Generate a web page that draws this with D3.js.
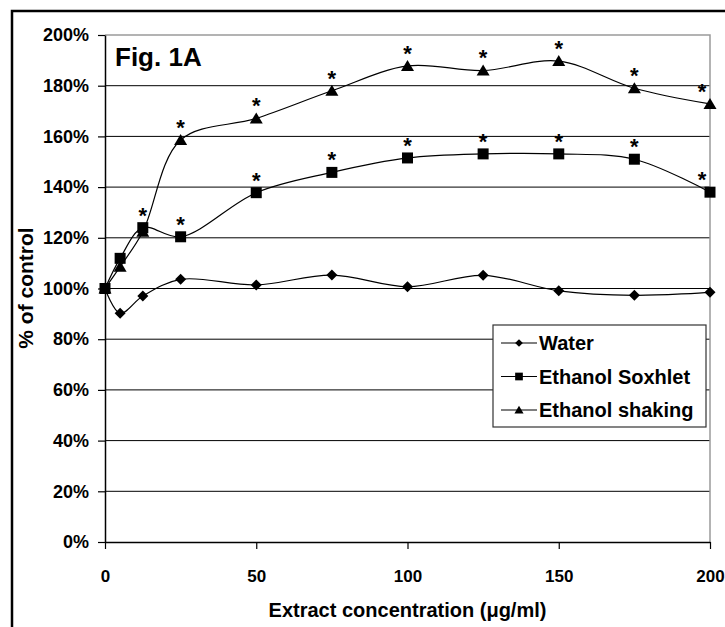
<!DOCTYPE html>
<html>
<head>
<meta charset="utf-8">
<script src="https://cdn.jsdelivr.net/npm/d3@7"></script>
<style>
  body { margin: 0; background: white; }
  text { font-family: "Liberation Sans", Arial, sans-serif; font-weight: bold; fill: #000; }
</style>
</head>
<body>
<div id="chart"></div>
<script>
// Data
const concentrations = [0, 5, 12.5, 25, 50, 75, 100, 125, 150, 175, 200];
const water   = [100, 90.2, 97.0, 103.6, 101.4, 105.3, 100.7, 105.2, 99.1, 97.3, 98.5];
const soxhlet = [100, 111.9, 124.0, 120.4, 137.8, 145.8, 151.5, 153.1, 153.1, 151.0, 138.0];
const shaking = [100, 108.6, 122.4, 158.6, 167.1, 178.0, 187.8, 186.0, 189.7, 179.0, 172.8];
// concentrations marked with * (significant)
const soxhletSig = [12.5, 25, 50, 75, 100, 125, 150, 175, 200];
const shakingSig = [25, 50, 75, 100, 125, 150, 175, 200];
const yTicks = [0, 20, 40, 60, 80, 100, 120, 140, 160, 180, 200];
const xTicks = [0, 50, 100, 150, 200];
const seriesNames = ["Water", "Ethanol Soxhlet", "Ethanol shaking"];

const W = 725, H = 627;
const margin = { top: 35, right: 15, bottom: 85, left: 105 },
      width = 710 - margin.left,
      height = 542 - margin.top;

const svg = d3.select("#chart")
    .append("svg")
    .attr("width", W)
    .attr("height", H)
    .style("background-color", "white");

// outer frame (only left & top visible, it is cropped on the other sides)
svg.append("path")
    .attr("d", `M12,${H + 5} L12,11 L${W + 5},11`)
    .attr("fill", "none")
    .attr("stroke", "#000")
    .attr("stroke-width", 2.5);

const g = svg.append("g")
    .attr("transform", `translate(${margin.left},${margin.top})`);

const x = d3.scaleLinear().domain([0, 200]).range([0, width]);
const y = d3.scaleLinear().domain([0, 200]).range([height, 0]);

// gridlines
g.selectAll("line.grid")
    .data(yTicks.filter(d => d > 0 && d < 200))
    .join("line")
    .attr("class", "grid")
    .attr("x1", 0).attr("x2", width)
    .attr("y1", d => y(d)).attr("y2", d => y(d))
    .attr("stroke", "#000")
    .attr("stroke-width", 1);

// plot border top/right (gray)
g.append("path")
    .attr("d", `M0,${y(200)} H${width} V${height}`)
    .attr("fill", "none")
    .attr("stroke", "#9a9a9a")
    .attr("stroke-width", 1.5);

// axes
const yAxis = g.append("g")
    .call(d3.axisLeft(y).tickValues(yTicks).tickFormat(d => d + "%").tickSize(7).tickSizeOuter(0).tickPadding(9));
yAxis.selectAll("text").style("font-size", "18px");

const xAxis = g.append("g")
    .attr("transform", `translate(0,${height})`)
    .call(d3.axisBottom(x).tickValues(xTicks).tickSize(7).tickSizeOuter(0).tickPadding(21));
xAxis.selectAll("text").style("font-size", "17px");

g.selectAll(".domain").attr("stroke", "#000").attr("stroke-width", 1.5);
g.selectAll(".tick line").attr("stroke", "#000").attr("stroke-width", 1.2);

// axis titles
svg.append("text")
    .attr("text-anchor", "middle")
    .attr("x", margin.left + width / 2)
    .attr("y", 617)
    .style("font-size", "20px")
    .text("Extract concentration (\u03bcg/ml)");

svg.append("text")
    .attr("text-anchor", "middle")
    .attr("transform", `translate(33,288) rotate(-90)`)
    .style("font-size", "21px")
    .text("% of control");

g.append("text")
    .attr("x", 10)
    .attr("y", 31)
    .style("font-size", "26px")
    .text("Fig. 1A");

// marker shapes
const markers = {
    diamond: s => `M0,${-5.5 * s}L${5.5 * s},0L0,${5.5 * s}L${-5.5 * s},0Z`,
    square: s => `M${-5.5 * s},${-5.5 * s}h${11 * s}v${11 * s}h${-11 * s}Z`,
    triangle: s => `M0,${-6 * s}L${6.5 * s},${5 * s}L${-6.5 * s},${5 * s}Z`
};

const series = [
    { name: seriesNames[0], values: water, marker: "diamond", sig: [] },
    { name: seriesNames[2], values: shaking, marker: "triangle", sig: shakingSig },
    { name: seriesNames[1], values: soxhlet, marker: "square", sig: soxhletSig }
];

const line = d3.line()
    .x(d => x(d[0]))
    .y(d => y(d[1]))
    .curve(d3.curveCatmullRom.alpha(0.5));

series.forEach(s => {
    const pts = concentrations.map((c, i) => [c, s.values[i]]);
    g.append("path")
        .datum(pts)
        .attr("fill", "none")
        .attr("stroke", "#000")
        .attr("stroke-width", 1.2)
        .attr("d", line);

    g.selectAll(null)
        .data(pts)
        .join("path")
        .attr("transform", d => `translate(${x(d[0])},${y(d[1])})`)
        .attr("d", markers[s.marker](1))
        .attr("fill", "#000");

    // significance stars
    g.selectAll(null)
        .data(pts.filter(d => s.sig.includes(d[0])))
        .join("text")
        .attr("text-anchor", "middle")
        .attr("x", d => x(d[0]) + (d[0] === 200 ? -8 : 0))
        .attr("y", d => y(d[1]) - 5)
        .style("font-size", "22px")
        .text("*");
});

// legend
const legend = svg.append("g").attr("transform", "translate(493,325)");
legend.append("rect")
    .attr("width", 213)
    .attr("height", 102)
    .attr("fill", "white")
    .attr("stroke", "#333")
    .attr("stroke-width", 1.2);

const legendItems = [series[0], series[2], series[1]];
legendItems.forEach((s, i) => {
    const row = legend.append("g").attr("transform", `translate(0,${18 + i * 33.5})`);
    row.append("line")
        .attr("x1", 8).attr("x2", 44)
        .attr("stroke", "#000").attr("stroke-width", 1.2);
    row.append("path")
        .attr("transform", "translate(26,0)")
        .attr("d", markers[s.marker](0.7))
        .attr("fill", "#000");
    row.append("text")
        .attr("x", 46)
        .attr("y", 7)
        .style("font-size", "20px")
        .text(s.name);
});
</script>
</body>
</html>
